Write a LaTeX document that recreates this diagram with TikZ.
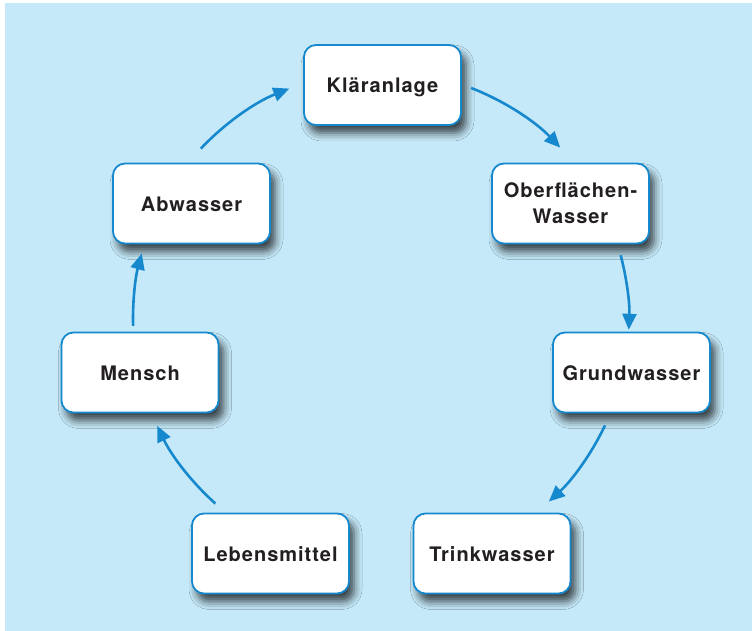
\documentclass[tikz,border=0pt]{standalone}
\usepackage{fontspec}
\newfontfamily\lblfont{TeX Gyre Heros}[LetterSpace=5.0]
\usetikzlibrary{arrows.meta,shadows.blur,calc}
\definecolor{bgblue}{RGB}{197,233,248}
\definecolor{edgeblue}{RGB}{22,137,206}
\definecolor{txtgray}{RGB}{35,31,32}
\tikzset{
  stage/.style={draw=edgeblue, line width=1.8pt, fill=white, rounded corners=12pt,
    minimum width=157pt, minimum height=80pt, align=center, inner sep=0pt,
    text=txtgray, font=\lblfont\bfseries\fontsize{20}{26}\selectfont,
    blur shadow={shadow xshift=5pt, shadow yshift=-8pt, shadow blur radius=8pt, shadow opacity=72, shadow blur extra rounding=4pt}},
  oneline/.style={text height=17pt, text depth=1pt},
  flow/.style={draw=edgeblue, line width=2.6pt, -{Triangle[length=16pt,width=14pt]}}
}
\begin{document}
\begin{tikzpicture}[x=1pt,y=1pt]
\useasboundingbox (0,0) rectangle (752,631);
\fill[bgblue] (5,0) rectangle (752,628);
\node[stage,oneline] (kl) at (382.5,546) {Kläranlage};
\node[stage] (ow) at (570.5,427.5) {Oberflächen-\\Wasser};
\node[stage,oneline] (gw) at (631.5,258.5) {Grundwasser};
\node[stage,oneline] (tw) at (492,77.5) {Trinkwasser};
\node[stage,oneline] (lm) at (270.5,77.5) {Lebensmittel};
\node[stage,oneline] (me) at (140,258.5) {Mensch};
\node[stage,oneline] (aw) at (191.5,427.5) {Abwasser};
\coordinate (ctr) at (381,312);
\coordinate (kl-out) at ($(ctr)+(68.7:248pt)$);
\coordinate (ow-out) at ($(ctr)+(14.9:248pt)$);
\coordinate (gw-out) at ($(ctr)+(-25.4:248pt)$);
\coordinate (lm-out) at ($(ctr)+(228.1:248pt)$);
\coordinate (me-out) at ($(ctr)+(181.6:248pt)$);
\coordinate (aw-out) at ($(ctr)+(136.6:248pt)$);
\draw[flow] (kl-out) arc[start angle=68.7, end angle=43.7, radius=248pt];
\draw[flow] (ow-out) arc[start angle=14.9, end angle=-2.5, radius=248pt];
\draw[flow] (gw-out) arc[start angle=-25.4, end angle=-47.4, radius=248pt];
\draw[flow] (lm-out) arc[start angle=228.1, end angle=205.5, radius=248pt];
\draw[flow] (me-out) arc[start angle=181.6, end angle=164.7, radius=248pt];
\draw[flow] (aw-out) arc[start angle=136.6, end angle=111.7, radius=248pt];
\end{tikzpicture}
\end{document}
